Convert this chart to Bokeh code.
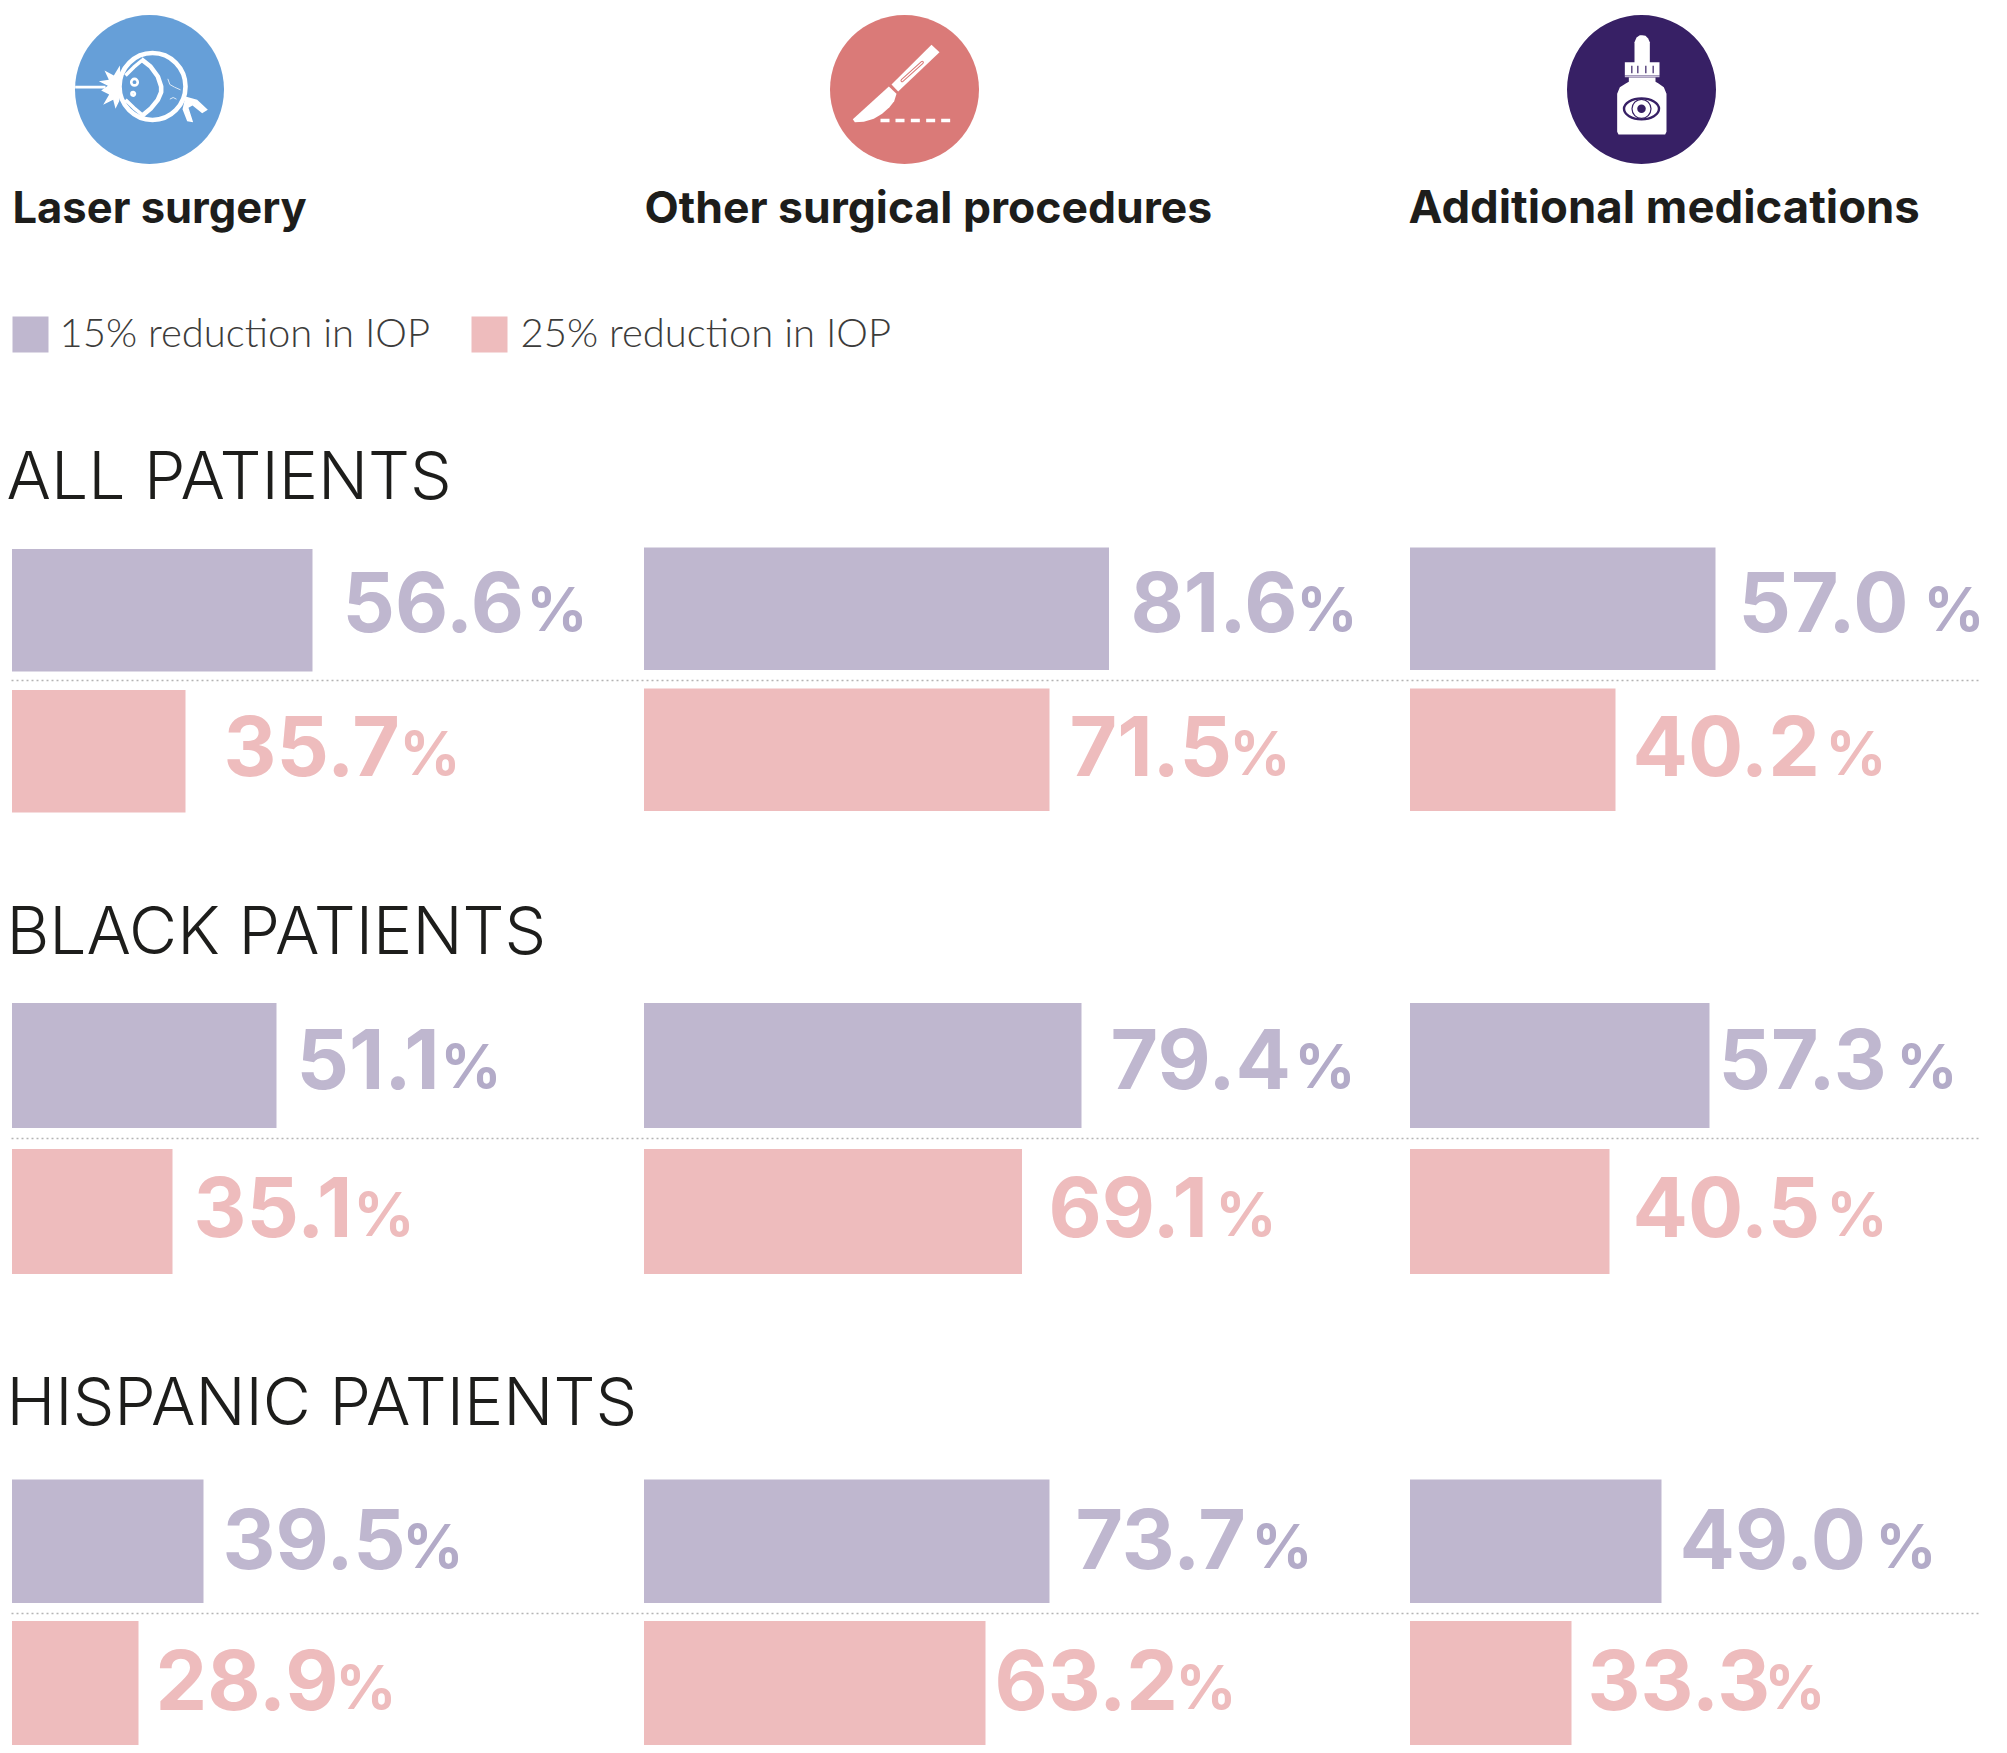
from bokeh.core.properties import value
from bokeh.embed import file_html
from bokeh.models import Range1d
from bokeh.plotting import figure
from bokeh.resources import INLINE

# ---- chart content ----
groups = ["ALL PATIENTS", "BLACK PATIENTS", "HISPANIC PATIENTS"]
treatments = ["Laser surgery", "Other surgical procedures", "Additional medications"]
legend_labels = ["15% reduction in IOP", "25% reduction in IOP"]

laser_15 = [56.6, 51.1, 39.5]
laser_25 = [35.7, 35.1, 28.9]
surgery_15 = [81.6, 79.4, 73.7]
surgery_25 = [71.5, 69.1, 63.2]
meds_15 = [57.0, 57.3, 49.0]
meds_25 = [40.2, 40.5, 33.3]

# drawn bar lengths as they appear in the picture (they are not strictly proportional to the labels)
laser_15_len = [300.5, 264.5, 191.5]
laser_25_len = [173.5, 160.5, 126.5]
surgery_15_len = [465, 437.5, 405.5]
surgery_25_len = [405.5, 378, 341.5]
meds_15_len = [305.5, 299.5, 251.5]
meds_25_len = [205.5, 199.5, 161.5]

# ---- layout (page pixels of the reference) ----
W, H = 2007, 1753
col_left = [11.5, 643.5, 1409.5]
row_top_15 = [[548.5, 1002.5, 1479], [547, 1002.5, 1479], [547, 1002.5, 1479]]
row_bot_15 = [[671, 1127.5, 1602.5], [669.5, 1127.5, 1602.5], [669.5, 1127.5, 1602.5]]
row_top_25 = [[689.5, 1148.5, 1620.5], [688, 1148.5, 1620.5], [688, 1148.5, 1620.5]]
row_bot_25 = [[812, 1273.5, 1744.5], [810.5, 1273.5, 1744.5], [810.5, 1273.5, 1744.5]]
dot_y = [680, 1138, 1613]
heading_base = [499, 954, 1425]
num_base_15 = [632, 1089, 1569]
num_base_25 = [776, 1237, 1710]
num_left_15 = [[342, 296, 222], [1130, 1110, 1075], [1738, 1718, 1679]]
num_left_25 = [[223, 193, 155], [1069, 1048, 994], [1632, 1632, 1587]]
pct_right_15 = [[587, 501, 463], [1357, 1355, 1312], [1984, 1957, 1936]]
pct_right_25 = [[460, 414, 396], [1290, 1276, 1236], [1886, 1887, 1825]]
treatment_left = [12, 644, 1408]
treatment_size = [43.5, 44.5, 45.5]

PURPLE = "#bfb7cf"
PURPLE_PCT = "#b3abc8"
PINK = "#eebcbd"
INK = "#1d1d1b"
BOLD = value("Inter")
LIGHT = value("Lato Light")
THIN = value("Inter Light")
K_NUM = 0.375  # alphabetic-baseline correction of the svg text, in em
K_PCT = 0.40

p = figure(width=W, height=H, x_range=Range1d(0, W), y_range=Range1d(H, 0),
           output_backend="svg", toolbar_location=None, min_border=0,
           outline_line_color=None, background_fill_color="white", border_fill_color="white")
p.axis.visible = False
p.grid.visible = False


def up(ys, size, k=K_NUM):
    return [y - k * size for y in ys]


# ---- bars and labels ----
vals15 = [laser_15, surgery_15, meds_15]
vals25 = [laser_25, surgery_25, meds_25]
lens15 = [laser_15_len, surgery_15_len, meds_15_len]
lens25 = [laser_25_len, surgery_25_len, meds_25_len]

for c in range(3):
    left = col_left[c]
    p.quad(left=[left] * 3, right=[left + v for v in lens15[c]], top=row_top_15[c], bottom=row_bot_15[c],
           fill_color=PURPLE, line_color=None)
    p.quad(left=[left] * 3, right=[left + v for v in lens25[c]], top=row_top_25[c], bottom=row_bot_25[c],
           fill_color=PINK, line_color=None)
    p.text(x=num_left_15[c], y=up(num_base_15, 82), text=[f"{v:.1f}" for v in vals15[c]], text_font=BOLD,
           text_font_style="bold", text_font_size="82px", text_color=PURPLE, text_baseline="alphabetic")
    p.text(x=num_left_25[c], y=up(num_base_25, 82), text=[f"{v:.1f}" for v in vals25[c]], text_font=BOLD,
           text_font_style="bold", text_font_size="82px", text_color=PINK, text_baseline="alphabetic")
    p.text(x=pct_right_15[c], y=up(num_base_15, 60, K_PCT), text=["%"] * 3, text_font=BOLD, text_font_style="bold",
           text_font_size="60px", text_color=PURPLE_PCT, text_align="right", text_baseline="alphabetic")
    p.text(x=pct_right_25[c], y=up(num_base_25, 60, K_PCT), text=["%"] * 3, text_font=BOLD, text_font_style="bold",
           text_font_size="60px", text_color=PINK, text_align="right", text_baseline="alphabetic")

for y in dot_y:
    p.line(x=[11, 1981], y=[y, y], line_color="#b4b4b4", line_width=1.5, line_dash="2 3")

# ---- headings, treatment names, legend ----
p.text(x=[6] * 3, y=up(heading_base, 66), text=groups, text_font=THIN, text_font_size="66px",
       text_color=INK, text_baseline="alphabetic")
for i in range(3):
    s = treatment_size[i]
    p.text(x=[treatment_left[i]], y=up([223], s), text=[treatments[i]], text_font=BOLD, text_font_style="bold",
           text_font_size=f"{s}px", text_color=INK, text_baseline="alphabetic")
p.quad(left=[12, 471], right=[48, 507], top=[316, 316], bottom=[352, 352],
       fill_color=[PURPLE, PINK], line_color=None)
p.text(x=[59, 520], y=up([346, 346], 40), text=legend_labels, text_font=LIGHT, text_font_size="40px",
       text_color="#3c3c3b", text_baseline="alphabetic")

# ---- pictograms: outlines traced at 3x from the icon crops ----
WHITE = "white"


def tx(ox, pts):
    return [ox + a / 3 for a in pts]


def ty(pts):
    return [10 + b / 3 for b in pts]


# laser icon
BLUE = "#669fd8"
ox = 70
p.ellipse(x=[149], y=[89], width=[149], height=[149], fill_color=BLUE, line_color=None)
p.line(tx(ox, [14, 105]), ty([230, 230]), line_color=WHITE, line_width=2.6)
star_x = [148, 130, 102, 115, 85, 112, 92, 116, 98, 128, 135, 146, 152]
star_y = [165, 195, 180, 208, 212, 226, 240, 252, 283, 268, 295, 272, 230]
p.patch(tx(ox, star_x), ty(star_y), fill_color=WHITE, line_color=None)
p.ellipse(x=[ox + 246 / 3], y=[10 + 228 / 3], width=[66], height=[67], fill_color=BLUE,
          line_color=WHITE, line_width=4.6)
lens_x = [212, 240, 262, 272, 272, 262, 240, 212]
lens_y = [146, 168, 198, 228, 245, 268, 295, 318]
p.line(tx(ox, lens_x), ty(lens_y), line_color=WHITE, line_width=4.6)
p.line(tx(ox, [165, 190, 214]), ty([195, 170, 150]), line_color=WHITE, line_width=3.5)
p.line(tx(ox, [165, 190, 214]), ty([268, 292, 312]), line_color=WHITE, line_width=3.5)
p.ellipse(x=[ox + 192 / 3, ox + 188 / 3], y=[10 + 215 / 3, 10 + 250 / 3], width=[6.5, 3.5], height=[6.5, 3.5],
          fill_color=BLUE, line_color=WHITE, line_width=2.6)
nerve_x = [345, 380, 412, 395, 366, 354, 368, 350, 336]
nerve_y = [258, 268, 298, 308, 285, 292, 335, 332, 296]
p.patch(tx(ox, nerve_x), ty(nerve_y), fill_color=WHITE, line_color=None)
p.line(tx(ox, [292, 298, 312, 330]), ty([205, 222, 230, 238]), line_color="#dce9f6", line_width=1)
p.line(tx(ox, [298, 308, 318]), ty([266, 261, 266]), line_color="#dce9f6", line_width=1)

# scalpel icon
ROSE = "#da7a78"
ox = 825
p.ellipse(x=[904], y=[89], width=[149], height=[149], fill_color=ROSE, line_color=None)
p.patch(tx(ox, [198, 318, 342, 218]), ty([222, 103, 125, 243]), fill_color=WHITE, line_color=None)
blade_x = [190, 213, 206, 192, 170, 145, 115, 88, 82]
blade_y = [228, 250, 272, 290, 310, 325, 334, 335, 326]
p.patch(tx(ox, blade_x), ty(blade_y), fill_color=WHITE, line_color=None)
p.line(tx(ox, [230, 290]), ty([210, 156]), line_color=ROSE, line_width=3.4, line_cap="round")
p.line(tx(ox, [230, 290]), ty([210, 156]), line_color=WHITE, line_width=1.2, line_cap="round")
for s in [165, 210, 256, 302, 347]:
    p.line(tx(ox, [s, s + 27]), ty([330, 330]), line_color=WHITE, line_width=3.4)

# eye-drop icon
INDIGO = "#372065"
ox = 1560
p.ellipse(x=[1641], y=[89], width=[149], height=[149], fill_color=INDIGO, line_color=None)
bulb_x = [222, 222, 228, 238, 245, 255, 263, 268, 268]
bulb_y = [158, 95, 81, 74, 74, 76, 84, 95, 158]
p.patch(tx(ox, bulb_x), ty(bulb_y), fill_color=WHITE, line_color=None)
p.quad(left=[ox + 193 / 3], right=[ox + 297 / 3], top=[10 + 155 / 3], bottom=[10 + 195 / 3],
       fill_color=WHITE, line_color=None)
p.line(tx(ox, [193, 297]), ty([198, 198]), line_color="#c8bfd8", line_width=1.4)
for g in [214, 232, 256, 278]:
    p.line(tx(ox, [g, g]), ty([166, 188]), line_color=INDIGO, line_width=1.2)
body_x = [205, 285, 285, 293, 310, 318, 318, 314, 174, 170, 170, 178, 197, 205]
body_y = [201, 201, 214, 218, 230, 250, 364, 372, 372, 364, 250, 230, 218, 214]
p.patch(tx(ox, body_x), ty(body_y), fill_color=WHITE, line_color=None)
p.ellipse(x=[ox + 243 / 3], y=[10 + 295 / 3], width=[35], height=[21], fill_color=WHITE,
          line_color=INDIGO, line_width=2.4)
p.ellipse(x=[ox + 243 / 3], y=[10 + 295 / 3], width=[19], height=[19], fill_color=WHITE,
          line_color=INDIGO, line_width=1.2)
p.ellipse(x=[ox + 243 / 3], y=[10 + 295 / 3], width=[8.5], height=[8.5], fill_color=INDIGO, line_color=None)

open("out.html", "w").write(file_html(p, INLINE))
